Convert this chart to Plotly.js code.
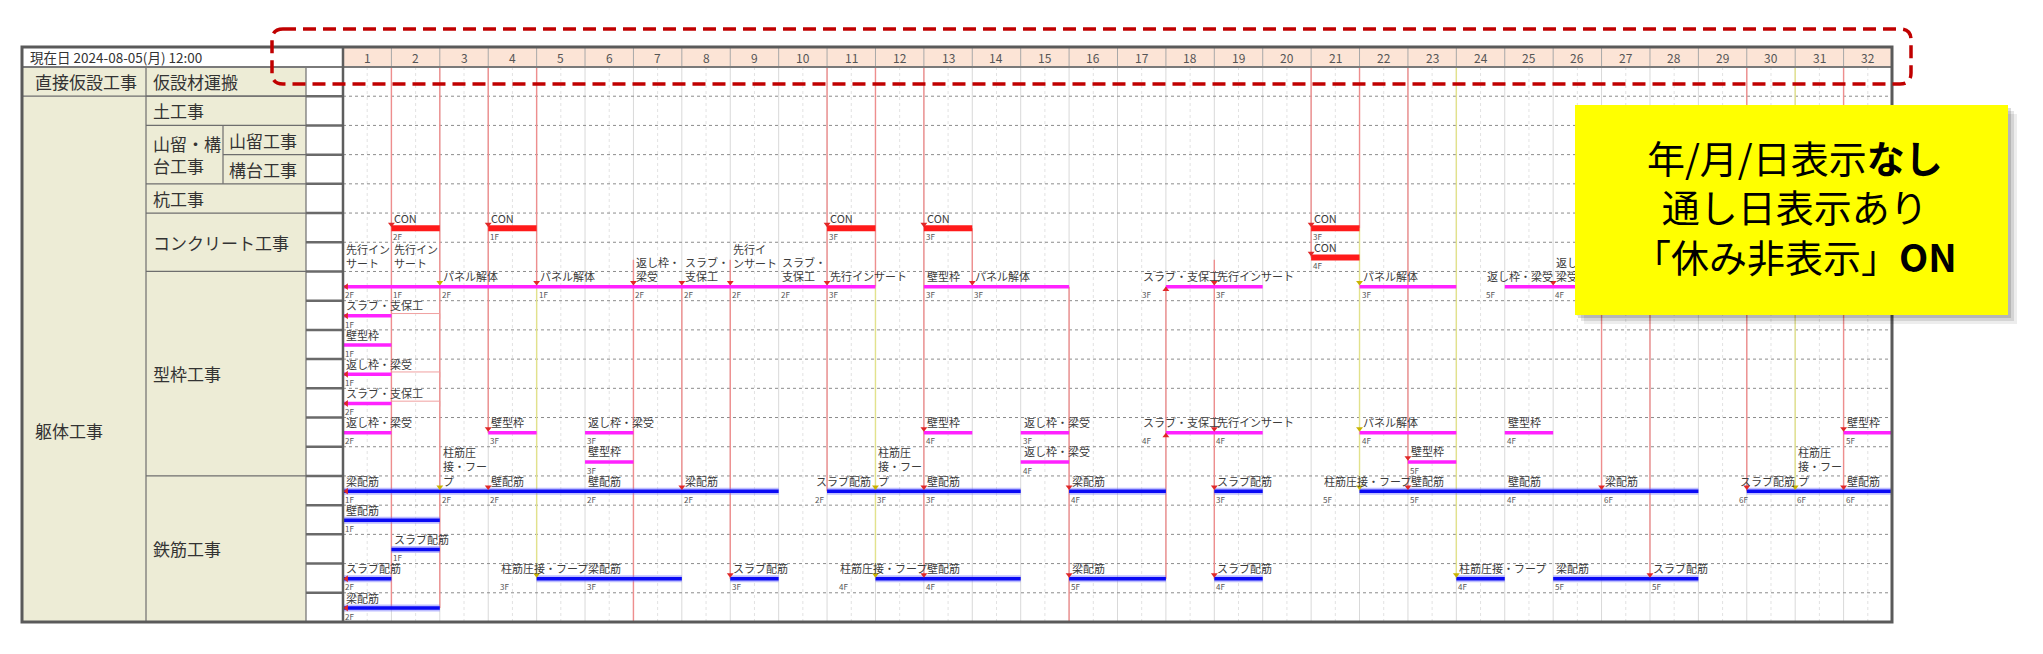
<!DOCTYPE html>
<html><head><meta charset="utf-8">
<script src="https://cdn.plot.ly/plotly-3.0.1.min.js"></script>
<style>html,body{margin:0;padding:0;background:#fff;}#chart{width:2043px;height:654px;}</style>
</head><body><div id="chart"></div>
<script>
// ---------------- data ----------------
const days = [1,2,3,4,5,6,7,8,9,10,11,12,13,14,15,16,17,18,19,20,21,22,23,24,25,26,27,28,29,30,31,32];
const currentDate = '現在日 2024-08-05(月) 12:00';
const groupLabels = ['直接仮設工事', '躯体工事'];
const workLabels = ['仮設材運搬', '土工事', '山留・構<br>台工事', '杭工事', 'コンクリート工事', '型枠工事', '鉄筋工事'];
const workRowFrom = [0, 1, 2, 4, 5, 7, 14];
const workRowTo   = [1, 2, 4, 5, 7, 14, 19];
const subLabels = ['山留工事', '構台工事'];
const subRows = [2, 3];
const noteLines = ['年/月/日表示<b>なし</b>', '通し日表示あり', '「休み非表示」<b>ON</b>'];

// bars: [row, startDay, endDay]
const conBars = [[5,1,2],[5,3,4],[5,10,11],[5,12,13],[5,20,21],[6,20,21]];
const formBars = [[7,0,11],[7,12,15],[7,17,19],[7,21,23],[7,24,26],
  [8,0,1],[9,0,1],[10,0,1],[11,0,1],
  [12,0,1],[12,3,4],[12,5,6],[12,12,13],[12,14,15],[12,17,19],[12,21,23],[12,24,25],[12,31,32],
  [13,5,6],[13,14,15],[13,22,23]];
const rebarBars = [[14,0,9],[14,10,14],[14,15,17],[14,18,19],[14,21,28],[14,29,32],
  [15,0,2],[16,1,2],
  [17,0,1],[17,4,7],[17,8,9],[17,11,14],[17,15,17],[17,18,19],[17,23,24],[17,25,28],
  [18,0,2]];

// task labels: [row, day, text, floor, (text raised by n lines)]
const conLabels = [[5,1,'CON','2F'],[5,3,'CON','1F'],[5,10,'CON','3F'],[5,12,'CON','3F'],[5,20,'CON','3F'],[6,20,'CON','4F']];
const formLabels = [
  [7,0,'先行イン\nサート','2F',1],[7,1,'先行イン\nサート','1F',1],[7,2,'パネル解体','2F'],[7,4,'パネル解体','1F'],
  [7,6,'返し枠・\n梁受','2F'],[7,7,'スラブ・\n支保工','2F'],[7,8,'先行イ\nンサート','2F',1],[7,9,'スラブ・\n支保工','2F'],
  [7,10,'先行インサート','3F'],[7,12,'壁型枠','3F'],[7,13,'パネル解体','3F'],[7,16.46,'スラブ・支保工','3F'],
  [7,18,'先行インサート','3F'],[7,21,'パネル解体','3F'],[7,23.58,'返し枠・梁受','5F'],[7,25,'返し枠・\n梁受','4F'],
  [8,0,'スラブ・支保工','1F'],[9,0,'壁型枠','1F'],[10,0,'返し枠・梁受','1F'],[11,0,'スラブ・支保工','2F'],
  [12,0,'返し枠・梁受','2F'],[12,3,'壁型枠','3F'],[12,5,'返し枠・梁受','3F'],[12,12,'壁型枠','4F'],
  [12,14,'返し枠・梁受','3F'],[12,16.46,'スラブ・支保工','4F'],[12,18,'先行インサート','4F'],[12,21,'パネル解体','4F'],
  [12,24,'壁型枠','4F'],[12,31,'壁型枠','5F'],
  [13,5,'壁型枠','3F'],[13,14,'返し枠・梁受','4F'],[13,22,'壁型枠','5F']];
const rebarLabels = [
  [14,0,'梁配筋','1F'],[14,2,'柱筋圧\n接・フー\nプ','2F'],[14,3,'壁配筋','2F'],[14,5,'壁配筋','2F'],[14,7,'梁配筋','2F'],
  [14,9.7,'スラブ配筋','2F'],[14,11,'柱筋圧\n接・フー\nプ','3F'],[14,12,'壁配筋','3F'],[14,15,'梁配筋','4F'],
  [14,18,'スラブ配筋','3F'],[14,20.2,'柱筋圧接・フープ','5F'],[14,22,'壁配筋','5F'],[14,24,'壁配筋','4F'],
  [14,26,'梁配筋','6F'],[14,28.8,'スラブ配筋','6F'],[14,30,'柱筋圧\n接・フー\nプ','6F'],[14,31,'壁配筋','6F'],
  [15,0,'壁配筋','1F'],[16,1,'スラブ配筋','1F'],
  [17,0,'スラブ配筋','2F'],[17,3.2,'柱筋圧接・フープ','3F'],[17,5,'梁配筋','3F'],[17,8,'スラブ配筋','3F'],
  [17,10.2,'柱筋圧接・フープ','4F'],[17,12,'壁配筋','4F'],[17,15,'梁配筋','5F'],[17,18,'スラブ配筋','4F'],
  [17,23,'柱筋圧接・フープ','4F'],[17,25,'梁配筋','5F'],[17,27,'スラブ配筋','5F'],
  [18,0,'梁配筋','2F']];

// link arrows at task starts: [row, day, kind]  d=down red, y=down yellow, u=up red, l=left red
const arrows = [[5,1,'d'],[5,3,'d'],[5,10,'d'],[5,12,'d'],[5,20,'d'],[6,20,'d'],
  [7,0,'l'],[7,2,'y'],[7,4,'d'],[7,6,'d'],[7,7,'d'],[7,8,'d'],[7,10,'d'],[7,13,'d'],[7,17,'u'],[7,18,'d'],[7,21,'y'],[7,25,'d'],
  [8,0,'l'],[10,0,'l'],[11,0,'l'],
  [12,3,'d'],[12,12,'d'],[12,17,'u'],[12,18,'d'],[12,21,'y'],[12,31,'d'],[13,22,'d'],
  [14,0,'l'],[14,2,'y'],[14,3,'d'],[14,7,'d'],[14,11,'y'],[14,12,'d'],[14,15,'d'],[14,18,'d'],[14,21,'y'],[14,22,'d'],
  [14,26,'d'],[14,29,'d'],[14,30,'y'],[14,31,'d'],
  [17,0,'l'],[17,4,'y'],[17,8,'d'],[17,11,'y'],[17,12,'d'],[17,15,'d'],[17,18,'d'],[17,23,'y'],[17,27,'d'],
  [18,0,'l']];

// dependency lines: [day, fromRow, toRow, kind] r=critical(red) y=other(yellow)
const links = [[1,0,18.52,'r'],[2,0,18.52,'r'],[3,0,12.52,'r'],[4,0,7.52,'r'],[4,7.52,17.52,'y'],
  [6,6.6,19,'r'],[7,7.52,14.52,'r'],[8,6.6,17.52,'r'],[10,0,14.52,'r'],[11,0,7.52,'r'],[11,7.52,17.52,'y'],
  [12,0,17.52,'r'],[13,5.52,7.52,'r'],[15,7.52,19,'r'],[17,7.52,17.52,'r'],[18,6.6,17.52,'r'],
  [20,0,6.52,'r'],[21,0,5.52,'r'],[21,5.52,14.52,'y'],[22,0,14.52,'r'],[23,0,17.52,'y'],
  [26,7,14.52,'r'],[27,7,17.52,'r'],[29,0,14.52,'r'],[30,0,14.52,'y'],[31,0,14.52,'r']];
const connectors = [[8,1,2],[10,1,2],[11,1,2]];

// ---------------- drawing ----------------
const W = 2043, H = 654;
const GX0 = 343, GX1 = 1892, GY0 = 67, GY1 = 622, TOP = 47, NR = 19;
const LEFT = 22, COLB = 146, COLSUB = 223, COLN = 306;
const px = v => v / W, py = v => 1 - v / H;
const rowPx = r => GY0 + r * (GY1 - GY0) / NR;
const FONT = 'Noto Sans CJK JP, Noto Sans, sans-serif';
const BAR = 0.52;

const shapes = [];
function pline(x0,y0,x1,y1,color,width,dash,layer){shapes.push({type:'line',xref:'paper',yref:'paper',x0:px(x0),y0:py(y0),x1:px(x1),y1:py(y1),line:{color:color,width:width,dash:dash||'solid'},layer:layer||'above'});}
function prect(x0,y0,x1,y1,fill,layer){shapes.push({type:'rect',xref:'paper',yref:'paper',x0:px(x0),y0:py(y0),x1:px(x1),y1:py(y1),fillcolor:fill,line:{width:0},layer:layer||'below'});}

// backgrounds
prect(LEFT, GY0, COLN, GY1, '#EDECD6');
prect(LEFT, TOP, GX0, GY0, '#FFFFFF');
shapes.push({type:'rect',xref:'x',yref:'paper',x0:0,x1:days.length,y0:py(TOP),y1:py(GY0),fillcolor:'#FCE4D6',line:{width:0},layer:'below'});
// header separators and gantt grid
for (let d = 0; d <= days.length; d++) {
  shapes.push({type:'line',xref:'x',yref:'paper',x0:d,x1:d,y0:py(TOP),y1:py(GY0),line:{color:'#A8A8A8',width:1},layer:'below'});
  shapes.push({type:'line',xref:'x',yref:'paper',x0:d,x1:d,y0:py(GY0),y1:py(GY1),line:{color:'#D9D9D9',width:1},layer:'below'});
  if (d < days.length) shapes.push({type:'line',xref:'x',yref:'paper',x0:d+0.5,x1:d+0.5,y0:py(GY0),y1:py(GY1),line:{color:'#E2E2E2',width:1,dash:'3px,3px'},layer:'below'});
}
for (let r = 1; r < NR; r++) {
  shapes.push({type:'line',xref:'x',yref:'y',x0:0,x1:days.length,y0:r,y1:r,line:{color:'#8C8C8C',width:1,dash:'dot'},layer:'below'});
}
// dependency lines
links.forEach(([d,a,b,k]) => shapes.push({type:'line',xref:'x',yref:'y',x0:d,x1:d,y0:a,y1:b,
  line:{color:k==='r'?'#EE8E8E':'#E2E28C',width:1.4},layer:'below'}));
connectors.forEach(([r,a,b]) => {
  shapes.push({type:'line',xref:'x',yref:'y',x0:a,x1:b,y0:r+0.44,y1:r+0.44,line:{color:'#F0A0A0',width:1},layer:'below'});
  shapes.push({type:'line',xref:'x',yref:'y',x0:b,x1:b,y0:r+0.44,y1:r+0.62,line:{color:'#F0A0A0',width:1},layer:'below'});
});
// label area borders
const BC = '#6E6E6E';
pline(COLB, GY0, COLB, GY1, BC, 1.2);
pline(COLN, GY0, COLN, GY1, BC, 1.2);
pline(COLSUB, rowPx(2), COLSUB, rowPx(4), BC, 1.2);
pline(LEFT, rowPx(1), COLN, rowPx(1), BC, 1.2);
workRowTo.forEach(t => { if (t < NR) pline(COLB, rowPx(t), COLN, rowPx(t), BC, 1.2); });
pline(COLSUB, rowPx(3), COLN, rowPx(3), BC, 1.2);
for (let r = 1; r < NR; r++) pline(COLN, rowPx(r), GX0, rowPx(r), '#6A6A6A', 2.5);
// frame
pline(LEFT, GY0, GX1, GY0, '#7A7A7A', 2);
pline(GX0, TOP, GX0, GY1, '#5E5E5E', 2.5);
shapes.push({type:'rect',xref:'paper',yref:'paper',x0:px(LEFT),x1:px(GX1),y0:py(TOP),y1:py(GY1),line:{color:'#5A5A5A',width:3},fillcolor:'rgba(0,0,0,0)',layer:'above'});
// dashed rounded highlight around header
(function(){
  const l=272,t=29,r=1911,b=84,k=11;
  const P=(x,y)=>px(x).toFixed(5)+','+py(y).toFixed(5);
  const path=`M${P(l+k,t)} L${P(r-k,t)} Q${P(r,t)} ${P(r,t+k)} L${P(r,b-k)} Q${P(r,b)} ${P(r-k,b)} L${P(l+k,b)} Q${P(l,b)} ${P(l,b-k)} L${P(l,t+k)} Q${P(l,t)} ${P(l+k,t)} Z`;
  shapes.push({type:'path',xref:'paper',yref:'paper',path:path,line:{color:'#C00000',width:3.5,dash:'13px,7px'},layer:'above'});
})();

// traces
const traces = [];
function barTrace(list, color, width){
  const x=[], y=[];
  list.forEach(([r,s,e]) => { x.push(s,e,null); y.push(r+BAR,r+BAR,null); });
  return {type:'scatter',mode:'lines',x:x,y:y,line:{color:color,width:width},hoverinfo:'skip',showlegend:false,cliponaxis:false};
}
traces.push(barTrace(conBars, '#FF1A1A', 6));
traces.push(barTrace(formBars, '#FF22FF', 3.5));
traces.push(barTrace(rebarBars, 'rgba(110,110,255,0.45)', 7));
traces.push(barTrace(rebarBars, '#0A0AF5', 3.5));
const arrowStyle = {d:['triangle-down','#E02828',0.38,0], y:['triangle-down','#C9B300',0.38,0], u:['triangle-up','#E02828',0.62,0], l:['triangle-left','#E02828',BAR,0.07]};
Object.keys(arrowStyle).forEach(k => {
  const s = arrowStyle[k], pts = arrows.filter(a => a[2] === k);
  traces.push({type:'scatter',mode:'markers',x:pts.map(a=>a[1]+s[3]),y:pts.map(a=>a[0]+s[2]),
    marker:{symbol:s[0],color:s[1],size:6,line:{width:0}},hoverinfo:'skip',showlegend:false,cliponaxis:false});
});

// annotations
const ann = [];
days.forEach(d => ann.push({xref:'x',yref:'paper',x:d-0.5,y:py((TOP+GY0)/2),text:String(d),showarrow:false,
  font:{family:FONT,size:12,color:'#555'},xanchor:'center',yanchor:'middle'}));
ann.push({xref:'paper',yref:'paper',x:px(28),y:py((TOP+GY0)/2),text:currentDate,showarrow:false,
  font:{family:FONT,size:13.5,color:'#333'},xanchor:'left',yanchor:'middle'});
const LF = {family:FONT,size:17,color:'#333'};
ann.push({xref:'paper',yref:'y',x:px(33),y:0.5,text:groupLabels[0],showarrow:false,font:LF,xanchor:'left',yanchor:'middle'});
ann.push({xref:'paper',yref:'y',x:px(33),y:12.43,text:groupLabels[1],showarrow:false,font:LF,xanchor:'left',yanchor:'middle'});
workLabels.forEach((t,i) => ann.push({xref:'paper',yref:'y',x:px(151),y:(workRowFrom[i]+workRowTo[i])/2,text:t,showarrow:false,
  font:LF,xanchor:'left',yanchor:'middle',align:'left'}));
subLabels.forEach((t,i) => ann.push({xref:'paper',yref:'y',x:px(227),y:subRows[i]+0.5,text:t,showarrow:false,
  font:LF,xanchor:'left',yanchor:'middle'}));
[].concat(conLabels, formLabels, rebarLabels).forEach(([r,d,t,f,up]) => {
  ann.push({xref:'x',yref:'y',x:d,y:r+0.47,text:t.replace(/\n/g,'<br>'),showarrow:false,xanchor:'left',yanchor:'bottom',
    xshift:2,yshift:(up||0)*13,align:'left',borderpad:0,font:{family:FONT,size:11,color:'#3C3C3C'}});
  ann.push({xref:'x',yref:'y',x:d,y:r+0.8,text:f,showarrow:false,xanchor:'left',yanchor:'middle',xshift:1,borderpad:0,
    font:{family:FONT,size:8,color:'#555'}});
});
// note box with shadow
const BX0 = 1575, BX1 = 2008, BY0 = 105, BY1 = 315;
[[9,'rgba(0,0,0,0.07)'],[6,'rgba(0,0,0,0.10)'],[3,'rgba(0,0,0,0.14)']].forEach(([o,c]) => ann.push({xref:'paper',yref:'paper',
  x:px((BX0+BX1)/2+o),y:py((BY0+BY1)/2+o),text:'',showarrow:false,width:BX1-BX0,height:BY1-BY0,bgcolor:c,borderpad:0,borderwidth:0,xanchor:'center',yanchor:'middle'}));
ann.push({xref:'paper',yref:'paper',x:px((BX0+BX1)/2),y:py((BY0+BY1)/2),text:'',showarrow:false,width:BX1-BX0,height:BY1-BY0,
  bgcolor:'#FFFF00',borderpad:0,borderwidth:0,xanchor:'center',yanchor:'middle'});
ann.push({xref:'paper',yref:'paper',x:px((BX0+BX1)/2 + 3),y:py(206),text:noteLines.join('<br>'),showarrow:false,align:'center',
  font:{family:FONT,size:38,color:'#000'},xanchor:'center',yanchor:'middle',borderpad:0,borderwidth:0});

const layout = {
  width:W, height:H, margin:{l:0,r:0,t:0,b:0}, paper_bgcolor:'#FFFFFF', plot_bgcolor:'rgba(0,0,0,0)', showlegend:false,
  xaxis:{domain:[px(GX0),px(GX1)],range:[0,days.length],visible:false,fixedrange:true},
  yaxis:{domain:[py(GY1),py(GY0)],range:[NR,0],visible:false,fixedrange:true},
  shapes:shapes, annotations:ann
};
Plotly.newPlot('chart', traces, layout, {staticPlot:true, displayModeBar:false});
</script></body></html>
